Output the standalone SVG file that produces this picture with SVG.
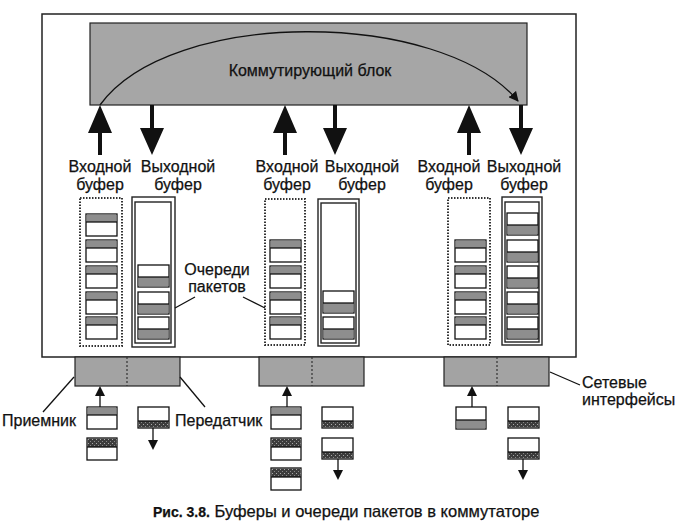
<svg xmlns="http://www.w3.org/2000/svg" width="686" height="531" viewBox="0 0 686 531">
<style>
.t{font-family:"Liberation Sans",Arial,sans-serif;font-size:16px;fill:#111;stroke:#111;stroke-width:0.25}
.c{text-anchor:middle}
.frame{fill:#fff;stroke:#222;stroke-width:1.5}
.blk{fill:#a6a6a6;stroke:#222;stroke-width:1.2}
.ib{fill:none;stroke:#333;stroke-width:2;stroke-dasharray:1.5 1.5}
.ob{fill:#fff;stroke:#222;stroke-width:1.4}
.pk{fill:#fff;stroke:#111;stroke-width:1.3}
.g{fill:#8e8e8e}
.d{fill:url(#dk)}
.big{fill:#111}
.ln{stroke:#111;stroke-width:1.3;fill:none}
.ifc{fill:#a3a3a3;stroke:#222;stroke-width:1.2}
.div{stroke:#333;stroke-width:1.2;stroke-dasharray:2 2}
</style>
<defs>
<pattern id="dk" width="4" height="4" patternUnits="userSpaceOnUse">
<rect width="4" height="4" fill="#3c3c3c"/>
<rect x="1" y="1" width="1" height="1" fill="#aaa"/>
<rect x="3" y="3" width="1" height="1" fill="#888"/>
</pattern>
<g id="pin"><rect class="pk" x="0" y="0" width="31" height="22"/><rect class="g" x="0.6" y="0.6" width="29.8" height="7.4"/><line class="ln" x1="0" y1="8" x2="31" y2="8"/></g>
<g id="pout"><rect class="pk" x="0" y="0" width="31" height="22"/><rect class="g" x="0.6" y="12" width="29.8" height="9.4"/><line class="ln" x1="0" y1="12" x2="31" y2="12"/></g>
<g id="bin"><rect class="pk" x="0" y="0" width="30" height="22"/><rect class="g" x="0.6" y="0.6" width="28.8" height="7.4"/><line class="ln" x1="0" y1="8" x2="30" y2="8"/></g>
<g id="bind"><rect class="pk" x="0" y="0" width="30" height="22"/><rect class="d" x="0.6" y="0.6" width="28.8" height="8.4"/><line class="ln" x1="0" y1="9" x2="30" y2="9"/></g>
<g id="boutd"><rect class="pk" x="0" y="0" width="31" height="21"/><rect class="d" x="0.6" y="14" width="29.8" height="6.4"/><line class="ln" x1="0" y1="14" x2="31" y2="14"/></g>
<marker id="ah" markerWidth="10" markerHeight="10" refX="9" refY="5" orient="auto" markerUnits="userSpaceOnUse"><path d="M0,0 L10,5 L0,10 Z" fill="#111"/></marker>
</defs>

<rect width="686" height="531" fill="#fff"/>

<g id="switch-frame"><rect class="frame" x="42" y="14" width="534" height="343"/></g>

<g id="switching-block">
<rect class="blk" x="90" y="23" width="437" height="82"/>
<text class="t c" x="310" y="76">Коммутирующий блок</text>
</g>

<g id="labels-1">
<text class="t c" x="100" y="172">Входной</text><text class="t c" x="100" y="190">буфер</text>
<text class="t c" x="178" y="172">Выходной</text><text class="t c" x="178" y="190">буфер</text>
</g>
<g id="labels-2">
<text class="t c" x="287" y="172">Входной</text><text class="t c" x="287" y="190">буфер</text>
<text class="t c" x="362" y="172">Выходной</text><text class="t c" x="362" y="190">буфер</text>
</g>
<g id="labels-3">
<text class="t c" x="449" y="172">Входной</text><text class="t c" x="449" y="190">буфер</text>
<text class="t c" x="524" y="172">Выходной</text><text class="t c" x="524" y="190">буфер</text>
</g>

<g id="input-buffer-1">
<rect class="ib" x="80" y="198" width="42" height="148"/>
<use href="#pin" x="86" y="214"/><use href="#pin" x="86" y="240"/><use href="#pin" x="86" y="266"/><use href="#pin" x="86" y="292"/><use href="#pin" x="86" y="317"/>
</g>
<g id="output-buffer-1">
<rect class="ob" x="132" y="197" width="43" height="150"/><rect class="ob" x="135" y="202" width="36" height="141"/>
<use href="#pout" x="138" y="265"/><use href="#pout" x="138" y="292"/><use href="#pout" x="138" y="317"/>
</g>
<g id="input-buffer-2">
<rect class="ib" x="265" y="199" width="40" height="146"/>
<use href="#pin" x="270" y="240"/><use href="#pin" x="270" y="266"/><use href="#pin" x="270" y="292"/><use href="#pin" x="270" y="317"/>
</g>
<g id="output-buffer-2">
<rect class="ob" x="318" y="199" width="41" height="147"/><rect class="ob" x="321" y="203" width="35" height="140"/>
<use href="#pout" x="323" y="291"/><use href="#pout" x="323" y="317"/>
</g>
<g id="input-buffer-3">
<rect class="ib" x="448" y="198" width="42" height="147"/>
<use href="#pin" x="455" y="240"/><use href="#pin" x="455" y="266"/><use href="#pin" x="455" y="292"/><use href="#pin" x="455" y="317"/>
</g>
<g id="output-buffer-3">
<rect class="ob" x="502" y="197" width="40" height="148"/><rect class="ob" x="505" y="202" width="34" height="140"/>
<use href="#pout" x="507" y="213"/><use href="#pout" x="507" y="240"/><use href="#pout" x="507" y="266"/><use href="#pout" x="507" y="292"/><use href="#pout" x="507" y="317"/>
</g>

<g id="queues-label">
<text class="t c" x="217" y="275">Очереди</text><text class="t c" x="217" y="292">пакетов</text>
</g>

<g id="interface-1"><rect class="ifc" x="75" y="357" width="105" height="29"/><line class="div" x1="127" y1="357" x2="127" y2="386"/></g>
<g id="interface-2"><rect class="ifc" x="259" y="357" width="105" height="29"/><line class="div" x1="312" y1="357" x2="312" y2="386"/></g>
<g id="interface-3"><rect class="ifc" x="444" y="357" width="105" height="29"/><line class="div" x1="497" y1="357" x2="497" y2="386"/></g>

<g id="receiver-label"><text class="t" x="2" y="426">Приемник</text></g>
<g id="transmitter-label"><text class="t" x="175" y="426">Передатчик</text></g>
<g id="interfaces-label"><text class="t" x="582" y="388">Сетевые</text><text class="t" x="582" y="405">интерфейсы</text></g>

<g id="packets-1">
<use href="#bin" x="87" y="407"/><use href="#bind" x="87" y="438"/>
<use href="#boutd" x="138" y="407"/>
</g>
<g id="packets-2">
<use href="#bin" x="271" y="407"/><use href="#bind" x="271" y="438"/><use href="#bind" x="271" y="468"/>
<use href="#boutd" x="322" y="407"/><use href="#boutd" x="322" y="438"/>
</g>
<g id="packets-3">
<g><rect class="pk" x="456" y="407" width="30" height="22"/><rect class="g" x="456.6" y="420" width="28.8" height="8.4"/><line class="ln" x1="456" y1="420" x2="486" y2="420"/></g>
<use href="#boutd" x="508" y="407"/><use href="#boutd" x="508" y="438"/>
</g>

<g id="connectors">
<path class="ln" d="M100,105 C170,8 440,8 518,101" stroke-width="2" marker-end="url(#ah)"/>
<path class="big" d="M100,105 L112,133 L102,133 L102,155 L98,155 L98,133 L88,133 Z"/>
<path class="big" d="M152,155 L164,128 L154,128 L154,105 L150,105 L150,128 L140,128 Z"/>
<path class="big" d="M285,105 L297,133 L287,133 L287,155 L283,155 L283,133 L273,133 Z"/>
<path class="big" d="M335,155 L347,128 L337,128 L337,105 L333,105 L333,128 L323,128 Z"/>
<path class="big" d="M469,105 L481,133 L471,133 L471,155 L467,155 L467,133 L457,133 Z"/>
<path class="big" d="M521,155 L533,128 L523,128 L523,105 L519,105 L519,128 L509,128 Z"/>
<line class="ln" x1="195" y1="297" x2="175" y2="308"/>
<line class="ln" x1="243" y1="297" x2="265" y2="308"/>
<line class="ln" x1="74" y1="377" x2="43" y2="412"/>
<line class="ln" x1="180" y1="377" x2="205" y2="407"/>
<line class="ln" x1="550" y1="372" x2="580" y2="385"/>
<line class="ln" x1="100" y1="407" x2="100" y2="395"/><path class="big" d="M100,386 L105,396 L95,396 Z"/>
<line class="ln" x1="153" y1="428" x2="153" y2="440"/><path class="big" d="M153,450 L158,440 L148,440 Z"/>
<line class="ln" x1="287" y1="407" x2="287" y2="395"/><path class="big" d="M287,386 L292,396 L282,396 Z"/>
<line class="ln" x1="338" y1="459" x2="338" y2="470"/><path class="big" d="M338,480 L343,470 L333,470 Z"/>
<line class="ln" x1="472" y1="407" x2="472" y2="395"/><path class="big" d="M472,386 L477,396 L467,396 Z"/>
<line class="ln" x1="523" y1="459" x2="523" y2="470"/><path class="big" d="M523,480 L528,470 L518,470 Z"/>
</g>

<g id="caption"><text class="t" x="153" y="517" style="font-size:16.5px"><tspan font-weight="bold" style="font-size:14px">Рис. 3.8.</tspan> Буферы и очереди пакетов в коммутаторе</text></g>
</svg>
